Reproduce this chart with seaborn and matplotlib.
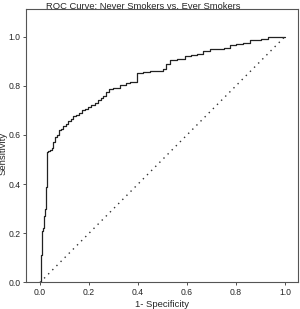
import matplotlib
matplotlib.use("Agg")
import matplotlib.pyplot as plt
import seaborn as sns

########################################################
# Data
########################################################

TITLE = "ROC Curve: Never Smokers vs. Ever Smokers"
X_LABEL = "1- Specificity"
Y_LABEL = "Sensitivity"

fpr = [0.0, 0.003, 0.005, 0.008, 0.012, 0.016, 0.020, 0.025, 0.030, 0.034,
       0.040, 0.048, 0.054, 0.060, 0.068, 0.076, 0.085, 0.095, 0.105, 0.115,
       0.125, 0.136, 0.148, 0.160, 0.172, 0.185, 0.198, 0.210, 0.224, 0.236,
       0.248, 0.258, 0.268, 0.280, 0.300, 0.327, 0.350, 0.367, 0.380, 0.395,
       0.420, 0.450, 0.480, 0.503, 0.515, 0.531, 0.560, 0.592, 0.615, 0.640,
       0.665, 0.694, 0.720, 0.750, 0.776, 0.800, 0.830, 0.857, 0.900, 0.932,
       0.970, 1.0]
tpr = [0.0, 0.05, 0.11, 0.21, 0.22, 0.27, 0.30, 0.39, 0.53, 0.535,
       0.54, 0.545, 0.57, 0.59, 0.60, 0.62, 0.625, 0.635, 0.645, 0.655,
       0.665, 0.675, 0.68, 0.69, 0.70, 0.705, 0.715, 0.72, 0.73, 0.74,
       0.75, 0.76, 0.775, 0.785, 0.79, 0.805, 0.81, 0.815, 0.815, 0.85,
       0.855, 0.86, 0.86, 0.866, 0.89, 0.905, 0.91, 0.92, 0.925, 0.93,
       0.94, 0.948, 0.95, 0.955, 0.965, 0.97, 0.975, 0.985, 0.99, 0.997,
       1.0, 1.0]

diag = [0.0, 1.0]
ticks = [0.0, 0.2, 0.4, 0.6, 0.8, 1.0]

########################################################
# Plot
########################################################

sns.set_style("ticks")
plt.rcParams['font.family'] = ['Liberation Sans', 'DejaVu Sans']

fig = plt.figure(figsize=(3.0, 3.09), dpi=100)
ax = fig.add_axes([0.0867, 0.0858, 0.9067, 0.8835])

sns.lineplot(x=fpr, y=tpr, ax=ax, color="#222222", linewidth=0.9,
             drawstyle="steps-post", estimator=None, sort=False)
sns.lineplot(x=diag, y=diag, ax=ax, color="#333333", linewidth=1.0,
             linestyle=(0, (1, 3.2)), estimator=None)

ax.set_xlim(-0.057, 1.053)
ax.set_ylim(0.0, 1.11)
ax.set_xticks(ticks)
ax.set_yticks(ticks)
ax.set_xticklabels([f"{t:.1f}" for t in ticks])
ax.set_yticklabels([f"{t:.1f}" for t in ticks])
ax.tick_params(labelsize=6.2, length=2.5, width=0.6, pad=1.5, color="#333333")

for s in ax.spines.values():
    s.set_visible(True)
    s.set_color("#555555")
    s.set_linewidth(0.8)

ax.set_xlabel(X_LABEL, fontsize=6.8, labelpad=2)
ax.set_ylabel(Y_LABEL, fontsize=6.8)
ax.yaxis.set_label_coords(-0.068, 0.474)
fig.text(0.479, 0.993, TITLE, ha="center", va="top", fontsize=6.75)

fig.savefig("out.png", dpi=100)
